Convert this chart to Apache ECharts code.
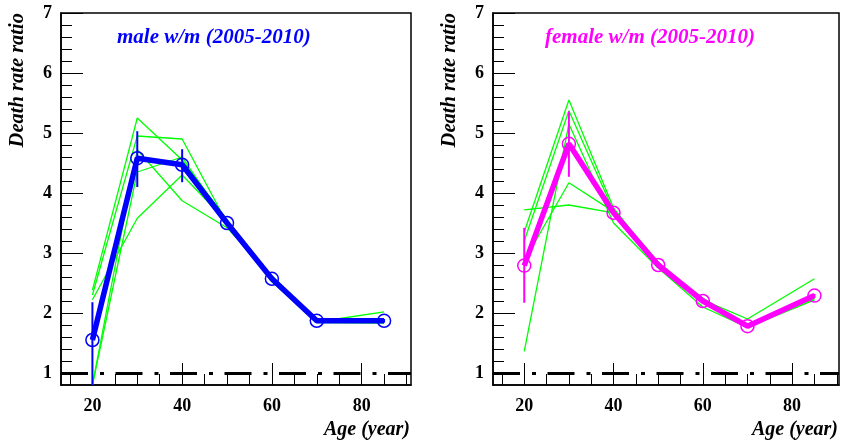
<!DOCTYPE html>
<html>
<head>
<meta charset="utf-8">
<script src="https://cdn.jsdelivr.net/npm/echarts@6/dist/echarts.min.js"></script>
<style>
  html, body { margin: 0; padding: 0; background: #fff; }
  #chart { width: 843px; height: 442px; }
</style>
</head>
<body>
<div id="chart"></div>
<script>
// age groups (x)
const ages = [20, 30, 40, 50, 60, 70, 85];

// male w/m, mean + error bars
const maleAvg   = [1.55, 4.58, 4.47, 3.50, 2.57, 1.87, 1.87];
const maleErrLo = [0.80, 4.10, 4.18, 3.46, 2.53, 1.84, 1.84];
const maleErrHi = [2.18, 5.03, 4.73, 3.54, 2.61, 1.90, 1.90];
// male, single years
const male1 = [2.38, 5.25, 4.55, 3.55, 2.60, 1.90, 1.85];
const male2 = [2.30, 4.95, 4.90, 3.50, 2.55, 1.86, 1.84];
const male3 = [2.22, 3.58, 4.30, 3.52, 2.52, 1.85, 2.02];
const male4 = [0.80, 4.72, 3.87, 3.42, 2.62, 1.88, 1.86];
const male5 = [0.80, 4.35, 4.60, 3.50, 2.58, 1.84, 1.83];

// female w/m, mean + error bars
const femAvg   = [2.79, 4.82, 3.67, 2.80, 2.20, 1.78, 2.29];
const femErrLo = [2.17, 4.27, 3.63, 2.77, 2.17, 1.75, 2.26];
const femErrHi = [3.42, 5.36, 3.71, 2.83, 2.23, 1.81, 2.32];
// female, single years
const fem1 = [3.72, 3.80, 3.67, 2.82, 2.22, 1.90, 2.57];
const fem2 = [2.87, 4.17, 3.69, 2.78, 2.20, 1.78, 2.25];
const fem3 = [1.36, 5.15, 3.50, 2.75, 2.10, 1.76, 2.22];
const fem4 = [3.35, 5.55, 3.75, 2.80, 2.25, 1.79, 2.27];
const fem5 = [3.20, 5.37, 3.70, 2.85, 2.18, 1.77, 2.24];

// ticks
const yMajor = [1, 2, 3, 4, 5, 6, 7];
const yMinor = [];
for (let v = 1.2; v < 6.95; v += 0.2) yMinor.push(+v.toFixed(1));
const xMajor = [20, 40, 60, 80];
const xMinor = [15, 25, 30, 35, 45, 50, 55, 65, 70, 75, 85, 90];

const serif = '"Liberation Serif", "Times New Roman", serif';
const pairs = ys => ages.map((a, i) => [a, ys[i]]);

function xAxes(gi, max) {
  return [
    {
      type: 'value', gridIndex: gi, min: 13, max: max,
      axisLine: { show: true, lineStyle: { color: '#000', width: 1.5 } },
      axisTick: { show: true, inside: true, length: 22, customValues: xMajor, lineStyle: { color: '#000' } },
      axisLabel: { customValues: xMajor, margin: 12, color: '#000', fontFamily: serif, fontWeight: 'bold', fontSize: 18 },
      splitLine: { show: false }
    },
    {
      type: 'value', gridIndex: gi, min: 13, max: max, position: 'bottom',
      axisLine: { show: false },
      axisTick: { show: true, inside: true, length: 11, customValues: xMinor, lineStyle: { color: '#000' } },
      axisLabel: { show: false },
      splitLine: { show: false }
    }
  ];
}

function yAxes(gi) {
  return [
    {
      type: 'value', gridIndex: gi, min: 0.8, max: 7,
      axisLine: { show: true, lineStyle: { color: '#000', width: 1.5 } },
      axisTick: { show: true, inside: true, length: 22, customValues: yMajor, lineStyle: { color: '#000' } },
      axisLabel: { customValues: yMajor, margin: 9, color: '#000', fontFamily: serif, fontWeight: 'bold', fontSize: 18 },
      splitLine: { show: false }
    },
    {
      type: 'value', gridIndex: gi, min: 0.8, max: 7, position: 'left',
      axisLine: { show: false },
      axisTick: { show: true, inside: true, length: 11, customValues: yMinor, lineStyle: { color: '#000' } },
      axisLabel: { show: false },
      splitLine: { show: false }
    }
  ];
}

function greenLine(ys, xi, yi, withRef) {
  const s = {
    type: 'line', xAxisIndex: xi, yAxisIndex: yi,
    data: pairs(ys), symbol: 'none', silent: true,
    lineStyle: { color: '#00ff00', width: 1.3 },
    z: 2
  };
  if (withRef) {
    // dash-dot reference line at ratio 1
    s.markLine = {
      silent: true, symbol: 'none', label: { show: false },
      lineStyle: { color: '#000', width: 3, type: [27, 12, 4, 11.5], cap: 'butt' },
      data: [{ yAxis: 1 }]
    };
  }
  return s;
}

function meanLine(ys, xi, yi, color) {
  return {
    type: 'line', xAxisIndex: xi, yAxisIndex: yi,
    data: pairs(ys), symbol: 'circle', symbolSize: 13, silent: true,
    itemStyle: { color: 'rgba(0,0,0,0)', borderColor: color, borderWidth: 1.5 },
    lineStyle: { color: color, width: 5.5 },
    z: 4
  };
}

function errBars(lo, hi, xi, yi, color) {
  return {
    type: 'custom', xAxisIndex: xi, yAxisIndex: yi, silent: true, z: 5,
    data: ages.map((a, i) => [a, lo[i], hi[i]]),
    encode: { x: 0, y: [1, 2] },
    renderItem: function (params, api) {
      const p1 = api.coord([api.value(0), api.value(1)]);
      const p2 = api.coord([api.value(0), api.value(2)]);
      return {
        type: 'line',
        shape: { x1: p1[0], y1: p1[1], x2: p2[0], y2: p2[1] },
        style: { stroke: color, lineWidth: 2 }
      };
    }
  };
}

function label(text, x, y, color, size, align, rot) {
  return {
    type: 'text', x: x, y: y, rotation: rot || 0, silent: true,
    style: {
      text: text, fill: color, textAlign: align, textVerticalAlign: 'middle',
      font: 'italic bold ' + size + 'px ' + serif
    }
  };
}

const chart = echarts.init(document.getElementById('chart'), null, { renderer: 'canvas' });

const option = {
  backgroundColor: '#fff',
  animation: false,
  grid: [
    { left: 61, top: 13, width: 350, height: 372, show: true, borderColor: '#000', borderWidth: 1.5, outerBoundsMode: 'none' },
    { left: 493, top: 13, width: 346, height: 372, show: true, borderColor: '#000', borderWidth: 1.5, outerBoundsMode: 'none' }
  ],
  xAxis: xAxes(0, 91).concat(xAxes(1, 90.5)),
  yAxis: yAxes(0).concat(yAxes(1)),
  series: [
    greenLine(male1, 0, 0, true),
    greenLine(male2, 0, 0),
    greenLine(male3, 0, 0),
    greenLine(male4, 0, 0),
    greenLine(male5, 0, 0),
    meanLine(maleAvg, 0, 0, '#0000ff'),
    errBars(maleErrLo, maleErrHi, 0, 0, '#0000ff'),

    greenLine(fem1, 2, 2, true),
    greenLine(fem2, 2, 2),
    greenLine(fem3, 2, 2),
    greenLine(fem4, 2, 2),
    greenLine(fem5, 2, 2),
    meanLine(femAvg, 2, 2, '#ff00ff'),
    errBars(femErrLo, femErrHi, 2, 2, '#ff00ff')
  ],
  graphic: [
    label('male w/m (2005-2010)', 117, 38, '#0000ff', 21, 'left'),
    label('female w/m (2005-2010)', 545, 38, '#ff00ff', 21, 'left'),
    label('Death rate ratio', 18, 13, '#000', 20.5, 'right', Math.PI / 2),
    label('Death rate ratio', 450, 13, '#000', 20.5, 'right', Math.PI / 2),
    label('Age (year)', 410, 430, '#000', 20, 'right'),
    label('Age (year)', 838, 430, '#000', 20, 'right')
  ]
};

chart.setOption(option);
</script>
</body>
</html>
